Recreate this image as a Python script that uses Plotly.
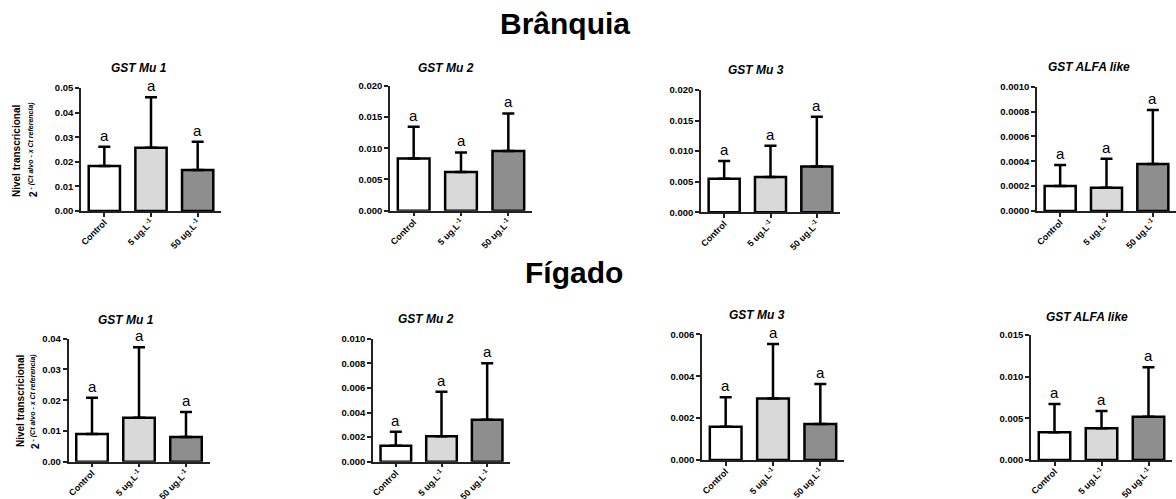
import plotly.graph_objects as go

W, H = 1176, 499

categories = ["Control", "5 ug.L<sup>-1</sup>", "50 ug.L<sup>-1</sup>"]
bar_colors = ["#ffffff", "#d9d9d9", "#8e8e8e"]

titles = ["GST Mu 1", "GST Mu 2", "GST Mu 3", "GST ALFA like",
          "GST Mu 1", "GST Mu 2", "GST Mu 3", "GST ALFA like"]

# Brânquia (gill) means and SD
branquia_mu1 = [0.0183, 0.0257, 0.0167]
branquia_mu1_sd = [0.0078, 0.0205, 0.0115]
branquia_mu2 = [0.00837, 0.00619, 0.00955]
branquia_mu2_sd = [0.00507, 0.00314, 0.00602]
branquia_mu3 = [0.0055, 0.00578, 0.00747]
branquia_mu3_sd = [0.00289, 0.00512, 0.00817]
branquia_alfa = [0.000201, 0.000188, 0.000378]
branquia_alfa_sd = [0.000169, 0.000233, 0.000434]

# Fígado (liver) means and SD
figado_mu1 = [0.0090, 0.0143, 0.0080]
figado_mu1_sd = [0.0118, 0.0229, 0.00815]
figado_mu2 = [0.0013, 0.00206, 0.00341]
figado_mu2_sd = [0.00114, 0.00363, 0.00459]
figado_mu3 = [0.00159, 0.00294, 0.00172]
figado_mu3_sd = [0.0014, 0.0026, 0.00191]
figado_alfa = [0.00332, 0.0038, 0.0052]
figado_alfa_sd = [0.0034, 0.00208, 0.00592]

letters = ["a", "a", "a"]

# y axis settings: (max, dtick, format)
yaxes_cfg = [(0.05, 0.01, ".2f"), (0.020, 0.005, ".3f"), (0.020, 0.005, ".3f"), (0.0010, 0.0002, ".4f"),
             (0.04, 0.01, ".2f"), (0.010, 0.002, ".3f"), (0.006, 0.002, ".3f"), (0.015, 0.005, ".3f")]

series = [(branquia_mu1, branquia_mu1_sd), (branquia_mu2, branquia_mu2_sd),
          (branquia_mu3, branquia_mu3_sd), (branquia_alfa, branquia_alfa_sd),
          (figado_mu1, figado_mu1_sd), (figado_mu2, figado_mu2_sd),
          (figado_mu3, figado_mu3_sd), (figado_alfa, figado_alfa_sd)]

# pixel layout of each panel: (x0, x1, ytop, ybottom)
panels = [(81, 221, 88, 211), (390, 532, 85.7, 210.7), (701, 840, 90, 212.3), (1037, 1176, 86.7, 211),
          (68.5, 209.5, 338.7, 461.7), (373, 510, 338.7, 461.7), (702, 844, 334.3, 460), (1031, 1172, 335, 460)]
title_pos = [(139, 68), (446, 68), (756, 70), (1089, 67),
             (126, 320), (426, 319), (757, 315), (1087, 317)]

FONT = "Liberation Sans, Arial, sans-serif"

fig = go.Figure()
layout = dict(
    width=W, height=H, margin=dict(l=0, r=0, t=0, b=0),
    plot_bgcolor="white", paper_bgcolor="white", showlegend=False,
    font=dict(family=FONT, color="black"),
)
annotations = []

for i, ((vals, sds), (x0, x1, yt, yb), (ymax, dt, fmt)) in enumerate(zip(series, panels, yaxes_cfg)):
    n = i + 1
    xa = "x" if n == 1 else f"x{n}"
    ya = "y" if n == 1 else f"y{n}"
    fig.add_trace(go.Bar(
        x=categories, y=vals, xaxis=xa, yaxis=ya, width=0.67,
        marker=dict(color=bar_colors, line=dict(color="black", width=2.5)),
        error_y=dict(type="data", array=sds, arrayminus=[0, 0, 0], symmetric=False,
                     color="black", thickness=2.5, width=6),
    ))
    layout[f"xaxis{n}" if n > 1 else "xaxis"] = dict(
        domain=[x0 / W, x1 / W], anchor=ya, type="category", range=[-0.5, 2.5],
        showline=True, linecolor="#222", linewidth=1.5, ticks="outside", ticklen=4,
        tickwidth=1.5, tickcolor="#222", tickangle=-45, showgrid=False, automargin=False,
        ticklabelstandoff=-3,
        tickfont=dict(family=FONT, size=9, color="black", weight="bold"),
    )
    layout[f"yaxis{n}" if n > 1 else "yaxis"] = dict(
        domain=[1 - yb / H, 1 - yt / H], anchor=xa, range=[0, ymax], dtick=dt, tick0=0,
        tickformat=fmt, showline=True, linecolor="#222", linewidth=1.5, ticks="outside",
        ticklen=4, tickwidth=1.5, tickcolor="#222", showgrid=False, zeroline=False,
        automargin=False, tickfont=dict(family=FONT, size=9.5, color="black", weight="bold"),
    )
    for c, v, s, L in zip(categories, vals, sds, letters):
        annotations.append(dict(x=c, y=v + s, xref=xa, yref=ya, text=L, showarrow=False,
                                xanchor="center", yanchor="bottom", yshift=1,
                                font=dict(family=FONT, size=15, color="black")))
    tx, ty = title_pos[i]
    annotations.append(dict(x=tx / W, y=1 - ty / H, xref="paper", yref="paper", showarrow=False,
                            text=f"<b><i>{titles[i]}</i></b>", xanchor="center", yanchor="middle",
                            font=dict(family=FONT, size=12, color="black")))

# section headings
annotations.append(dict(x=565 / W, y=1 - 23 / H, xref="paper", yref="paper", showarrow=False,
                        xanchor="center", yanchor="middle",
                        text="<b>Brânquia</b>", font=dict(family=FONT, size=30, color="black")))
annotations.append(dict(x=574 / W, y=1 - 272 / H, xref="paper", yref="paper", showarrow=False,
                        xanchor="center", yanchor="middle",
                        text="<b>Fígado</b>", font=dict(family=FONT, size=30, color="black")))

# y axis titles
for (xa1, ya1, xa2, ya2) in [(17, 151, 33, 150), (20, 401, 35, 402)]:
    annotations.append(dict(x=xa1 / W, y=1 - ya1 / H, xref="paper", yref="paper", showarrow=False,
                            xanchor="center", yanchor="middle",
                            textangle=-90, text="<b>Nivel transcricional</b>",
                            font=dict(family=FONT, size=10, color="black")))
    annotations.append(dict(x=xa2 / W, y=1 - ya2 / H, xref="paper", yref="paper", showarrow=False,
                            xanchor="center", yanchor="middle",
                            textangle=-90,
                            text="<b>2</b><sup><b><i> - (Ct alvo - x Ct referencia)</i></b></sup>",
                            font=dict(family=FONT, size=10, color="black")))

layout["annotations"] = annotations
fig.update_layout(**layout)
fig.write_html("out.html", config={"displayModeBar": False},
               post_script="document.body.style.margin='0';document.body.style.overflow='hidden';")
